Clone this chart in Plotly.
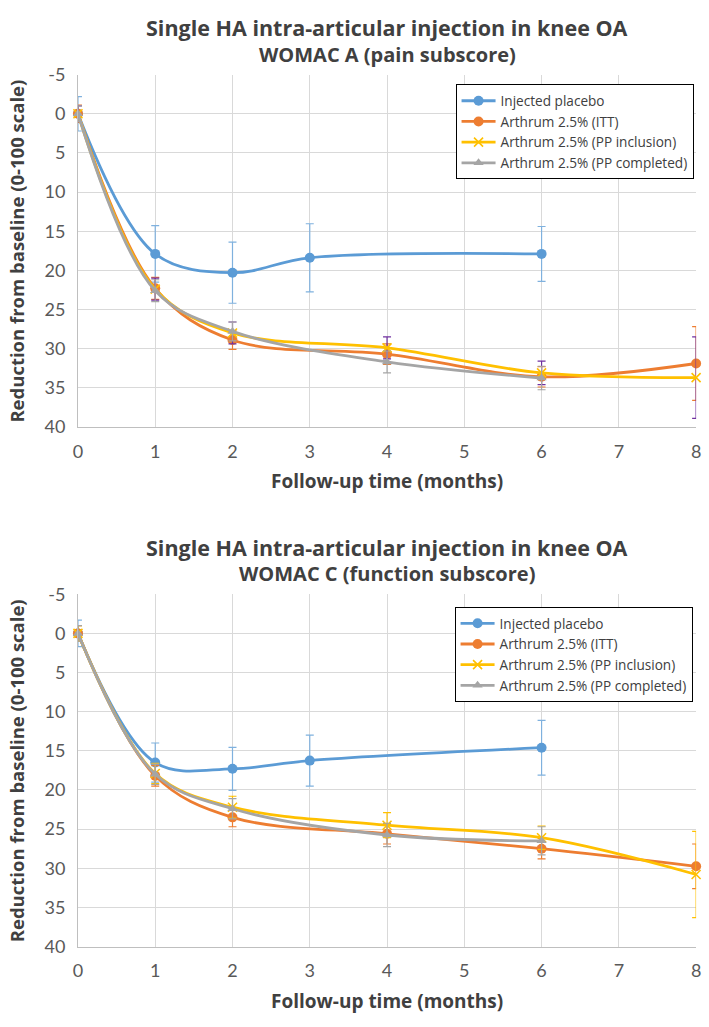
import plotly.graph_objects as go

# ---------------- data ----------------
series_names = ["Injected placebo", "Arthrum 2.5% (ITT)",
                "Arthrum 2.5% (PP inclusion)", "Arthrum 2.5% (PP completed)"]
months_placebo = [0, 1, 2, 3, 6]
months_itt = [0, 1, 2, 4, 6, 8]
months_ppi = [0, 1, 2, 4, 6, 8]
months_ppc = [0, 1, 2, 4, 6]

# WOMAC A (pain subscore)
a_placebo = [0, 17.9, 20.3, 18.4, 17.9]
a_placebo_err = [2.2, 3.6, 3.9, 4.35, 3.5]
a_itt = [0, 22.3, 28.9, 30.7, 33.6, 31.9]
a_itt_err = [1.1, 1.4, 1.2, 1.3, 1.3, 4.7]
a_ppi = [0, 22.4, 28.0, 29.9, 33.1, 33.7]
a_ppi_err = [1.0, 1.4, 1.4, 1.4, 1.5, 5.2]
a_ppc = [0, 22.6, 27.8, 31.7, 33.75]
a_ppc_err = [1.0, 1.4, 1.2, 1.4, 1.5]

# WOMAC C (function subscore)
c_placebo = [0, 16.5, 17.3, 16.25, 14.6]
c_placebo_err = [1.7, 2.5, 2.75, 3.25, 3.5]
c_itt = [0, 18.2, 23.5, 25.6, 27.5, 29.75]
c_itt_err = [1.0, 1.3, 1.2, 1.3, 1.3, 2.85]
c_ppi = [0, 17.9, 22.2, 24.5, 26.1, 30.8]
c_ppi_err = [1.0, 1.3, 1.4, 1.6, 1.5, 5.5]
c_ppc = [0, 18.0, 22.4, 25.75, 26.5]
c_ppc_err = [1.0, 1.3, 1.3, 1.5, 1.8]

titles = ["Single HA intra-articular injection in knee OA",
          "Single HA intra-articular injection in knee OA"]
subtitles = ["WOMAC A (pain subscore)", "WOMAC C (function subscore)"]
x_title = "Follow-up time (months)"
y_title = "Reduction from baseline (0-100 scale)"
x_ticks = [0, 1, 2, 3, 4, 5, 6, 7, 8]
x_tick_labels = ["0", "1", "2", "3", "4", "5", "6", "7", "8"]
y_ticks = [-5, 0, 5, 10, 15, 20, 25, 30, 35, 40]
y_tick_labels = ["-5", "0", "5", "10", "15", "20", "25", "30", "35", "40"]

# ---------------- style ----------------
W, H = 709, 1027
TFONT = "Open Sans"
NFONT = "Lato"
TEXT = "#404040"
line_colors = ["#5B9BD5", "#ED7D31", "#FFC000", "#A5A5A5"]
err_colors_top = ["#7FB1DE", "#ED7D31", "#7030A0", "#A5A5A5"]
err_colors_bot = ["#7FB1DE", "#ED7D31", "#FFC000", "#A5A5A5"]
symbols = ["circle", "circle", "x-thin", "triangle-up"]
msizes = [10, 10, 9, 9]

# pixel geometry
px_left, px_right = 74, 701
top_y0, top_y1 = 64, 424      # plot area (pixels from top)
shift = 531                   # vertical offset of second chart

def ydom(y0, y1):
    return [1 - y1 / H, 1 - y0 / H]

fig = go.Figure()

charts = [
    dict(xa="x", ya="y", legend="legend",
         data=[(months_placebo, a_placebo, a_placebo_err),
               (months_itt, a_itt, a_itt_err),
               (months_ppi, a_ppi, a_ppi_err),
               (months_ppc, a_ppc, a_ppc_err)],
         errc=err_colors_top),
    dict(xa="x2", ya="y2", legend="legend2",
         data=[(months_placebo, c_placebo, c_placebo_err),
               (months_itt, c_itt, c_itt_err),
               (months_ppi, c_ppi, c_ppi_err),
               (months_ppc, c_ppc, c_ppc_err)],
         errc=err_colors_bot),
]

for ch in charts:
    for i, (xs, ys, es) in enumerate(ch["data"]):
        marker = dict(symbol=symbols[i], size=msizes[i], color=line_colors[i])
        if symbols[i] == "x-thin":
            marker["line"] = dict(color=line_colors[i], width=1.6)
        fig.add_trace(go.Scatter(
            x=xs, y=ys, name=series_names[i], mode="lines+markers",
            xaxis=ch["xa"], yaxis=ch["ya"], legend=ch["legend"],
            line=dict(color=line_colors[i], width=2.8, shape="spline", smoothing=1.0),
            marker=marker, cliponaxis=False,
            error_y=dict(type="data", array=es, visible=True,
                         color=ch["errc"][i], thickness=1.2, width=4),
        ))

axis_common = dict(
    showgrid=True, gridcolor="#D9D9D9", gridwidth=1, zeroline=False,
    showline=True, linecolor="#BFBFBF", linewidth=1,
    ticks="outside", tickcolor="rgba(0,0,0,0)",
    tickfont=dict(family=NFONT, size=18, color="#595959"),
)
xdom = [px_left / W, px_right / W]

for k, (xa, ya) in enumerate([("xaxis", "yaxis"), ("xaxis2", "yaxis2")]):
    y0 = top_y0 + k * shift
    y1 = top_y1 + k * shift
    fig.layout[xa] = dict(axis_common, domain=xdom, range=[0, 8],
                          tickvals=x_ticks, ticktext=x_tick_labels, ticklen=8,
                          anchor="y" if k == 0 else "y2")
    fig.layout[ya] = dict(axis_common, domain=ydom(y0, y1), range=[40, -5],
                          tickvals=y_ticks, ticktext=y_tick_labels, ticklen=8,
                          anchor="x" if k == 0 else "x2")

annotations = []
title_y = [16, 547]
sub_y = [43, 574]
xt_y = [479, 1011]
for k in range(2):
    off = k * shift
    cx = (px_left + px_right) / 2 / W
    annotations.append(dict(text="<b>%s</b>" % titles[k], x=cx, y=1 - title_y[k] / H,
                            xref="paper", yref="paper", showarrow=False,
                            font=dict(family=TFONT, size=21.5, color=TEXT),
                            xanchor="center", yanchor="middle"))
    annotations.append(dict(text="<b>%s</b>" % subtitles[k], x=cx, y=1 - sub_y[k] / H,
                            xref="paper", yref="paper", showarrow=False,
                            font=dict(family=TFONT, size=20, color=TEXT),
                            xanchor="center", yanchor="middle"))
    annotations.append(dict(text="<b>%s</b>" % x_title, x=cx, y=1 - xt_y[k] / H,
                            xref="paper", yref="paper", showarrow=False,
                            font=dict(family=TFONT, size=19, color=TEXT),
                            xanchor="center", yanchor="middle"))
    annotations.append(dict(text="<b>%s</b>" % y_title, x=12 / W,
                            y=1 - ((top_y0 + top_y1) / 2 + off) / H,
                            xref="paper", yref="paper", showarrow=False, textangle=-90,
                            font=dict(family=TFONT, size=18.5, color=TEXT),
                            xanchor="center", yanchor="middle"))

legend_common = dict(
    bgcolor="white", bordercolor="black", borderwidth=1,
    font=dict(family=TFONT, size=13.6, color=TEXT),
    xanchor="left", yanchor="top", itemwidth=34, tracegroupgap=0,
)

fig.update_layout(
    width=W, height=H,
    margin=dict(l=0, r=0, t=0, b=0),
    paper_bgcolor="white", plot_bgcolor="white",
    showlegend=True,
    legend=dict(legend_common, x=457 / W, y=1 - 74 / H),
    legend2=dict(legend_common, x=456 / W, y=1 - 608 / H),
    annotations=annotations,
)

fig.write_html("out.html", config={"displayModeBar": False},
               post_script="document.body.style.margin='0';document.body.style.overflow='hidden';")
